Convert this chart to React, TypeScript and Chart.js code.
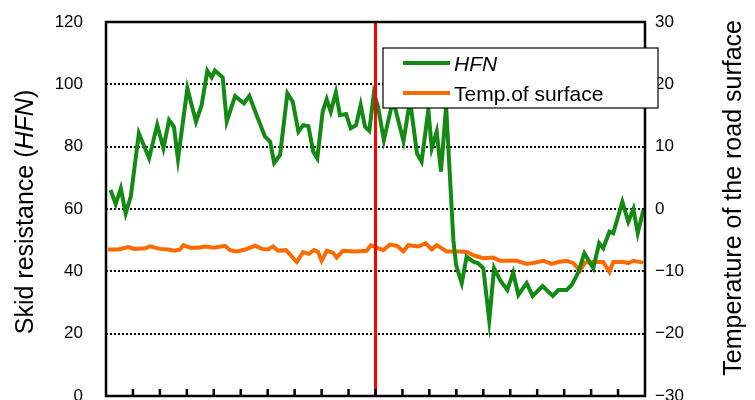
import React, { useEffect, useRef } from "react";
import { Chart, registerables } from "chart.js";

Chart.register(...registerables);

// Distance along the section (x-axis units, 20 intervals) and skid resistance (HFN)
const hfnDist = [
  0.17, 0.36, 0.55, 0.73, 0.92, 1.22, 1.6, 1.9, 2.13, 2.34, 2.52, 2.67, 3.02, 3.34, 3.55, 3.76, 3.92,
  4.04, 4.33, 4.48, 4.79, 5.12, 5.32, 5.59, 5.9, 6.09, 6.24, 6.46, 6.73, 6.93, 7.14, 7.32, 7.51, 7.69,
  7.84, 8.04, 8.19, 8.34, 8.53, 8.68, 8.91, 9.08, 9.28, 9.45, 9.61, 9.77, 9.94, 10.09, 10.31, 10.65,
  11.04, 11.28, 11.54, 11.71, 11.96, 12.09, 12.27, 12.43, 12.62, 12.89, 12.99, 13.2, 13.38, 13.63,
  13.81, 14.0, 14.22, 14.4, 14.62, 14.89, 15.11, 15.3, 15.61, 15.83, 16.2, 16.58, 16.78, 17.09, 17.28,
  17.52, 17.75, 18.08, 18.3, 18.45, 18.68, 18.82, 19.16, 19.38, 19.57, 19.73, 19.94,
];
const hfnValues = [
  66.1, 61.6, 66.6, 58.6, 64, 84.3, 76.3, 87, 79.5, 88.5, 86.4, 76, 98.7, 88, 93.4, 104.3, 102.2,
  104.4, 102.2, 88, 96.2, 93.9, 96.3, 90.1, 83.2, 81.6, 74.8, 77.3, 97.1, 94.4, 84.8, 86.9, 86.6, 78.4,
  76.3, 91.2, 95.2, 91.2, 97.4, 90.1, 90.5, 85.9, 86.9, 93.4, 86.4, 85.1, 97.1, 93, 82.1, 95,
  81.8, 95, 77.8, 75.2, 91.8, 79.5, 84.8, 72, 93, 50, 42, 36.2, 44.7, 43.1,
  42.6, 41, 24.2, 41, 37.2, 34, 39.6, 32.4, 36.2, 32.1, 35.3, 32.1, 34, 34, 35.6,
  39.6, 45.8, 41, 49, 47.4, 52.7, 52.2, 62.3, 55.9, 60, 52.2, 59.7,
];

// Distance and road surface temperature (°C)
const tempDist = [
  0.07, 0.45, 0.83, 1.04, 1.45, 1.63, 2.0, 2.3, 2.56, 2.75, 2.87, 3.12, 3.41, 3.71, 4.01, 4.42, 4.6,
  4.85, 5.16, 5.53, 5.79, 6.01, 6.2, 6.38, 6.68, 7.08, 7.31, 7.53, 7.72, 7.87, 8.0, 8.2, 8.42, 8.56,
  8.79, 9.24, 9.67, 9.83, 9.98, 10.29, 10.54, 10.8, 11.03, 11.22, 11.59, 11.87, 12.09, 12.27, 12.64,
  13.14, 13.38, 13.69, 14.0, 14.37, 14.62, 15.24, 15.61, 15.92, 16.23, 16.54, 16.78, 17.09, 17.34,
  17.59, 17.77, 18.11, 18.45, 18.68, 18.82, 19.19, 19.38, 19.57, 19.94,
];
const tempValues = [
  -6.5, -6.5, -6.1, -6.4, -6.3, -6.0, -6.4, -6.5, -6.7, -6.5, -5.8, -6.2, -6.2, -6.0, -6.2, -5.9, -6.6,
  -6.8, -6.5, -5.9, -6.4, -6.5, -6.0, -6.7, -6.6, -8.5, -6.9, -7.2, -6.6, -6.9, -8.3, -6.7, -7.0, -7.8,
  -6.7, -6.8, -6.7, -5.8, -6.1, -6.6, -5.7, -5.9, -6.8, -5.8, -6.0, -5.5, -6.5, -5.8, -6.8,
  -6.8, -6.9, -7.5, -7.9, -7.8, -8.3, -8.3, -8.8, -8.6, -8.3, -8.8, -8.5, -8.3, -8.7,
  -9.9, -8.6, -8.5, -8.5, -10.1, -8.5, -8.5, -8.7, -8.3, -8.6,
];

const xMin = 0;
const xMax = 20;
const markerPosition = 10;
const leftAxis = { min: 0, max: 120, step: 20 };
const rightAxis = { min: -30, max: 30, step: 10 };

const leftTitleParts = [
  { text: "Skid resistance (", italic: false },
  { text: "HFN", italic: true },
  { text: ")", italic: false },
];
const rightTitle = "Temperature of the road surface";
const legendItems = [
  { text: "HFN", italic: true, color: "#138a13" },
  { text: "Temp.of surface", italic: false, color: "#ff6a00" },
];

const FONT = "'Liberation Sans', Arial, sans-serif";

const decorPlugin = {
  id: "decor",
  beforeDatasetsDraw(chart: any) {
    const { ctx, chartArea } = chart;
    const y = chart.scales.y;
    ctx.save();
    ctx.strokeStyle = "#000";
    ctx.lineWidth = 2;
    ctx.setLineDash([2, 2]);
    y.ticks.forEach((t: any) => {
      if (t.value <= leftAxis.min || t.value >= leftAxis.max) return;
      const py = Math.round(y.getPixelForValue(t.value));
      ctx.beginPath();
      ctx.moveTo(chartArea.left, py);
      ctx.lineTo(chartArea.right, py);
      ctx.stroke();
    });
    ctx.restore();
  },
  afterDatasetsDraw(chart: any) {
    const { ctx, chartArea } = chart;
    const x = chart.scales.x;
    ctx.save();
    // red marker line
    const mx = x.getPixelForValue(markerPosition);
    ctx.strokeStyle = "#ff0000";
    ctx.lineWidth = 3;
    ctx.beginPath();
    ctx.moveTo(mx, chartArea.top);
    ctx.lineTo(mx, chartArea.bottom);
    ctx.stroke();

    // frame
    ctx.strokeStyle = "#000";
    ctx.lineWidth = 2.5;
    ctx.strokeRect(chartArea.left, chartArea.top, chartArea.right - chartArea.left, chartArea.bottom - chartArea.top);

    // inner x tick marks
    ctx.lineWidth = 2.5;
    for (let v = xMin + 1; v < xMax; v++) {
      const px = x.getPixelForValue(v);
      ctx.beginPath();
      ctx.moveTo(px, chartArea.bottom);
      ctx.lineTo(px, chartArea.bottom - 7);
      ctx.stroke();
    }

    // legend box
    const lx = 383, ly = 48, lw = 275, lh = 60;
    ctx.fillStyle = "#fff";
    ctx.fillRect(lx, ly, lw, lh);
    ctx.strokeStyle = "#000";
    ctx.lineWidth = 1.2;
    ctx.strokeRect(lx, ly, lw, lh);
    legendItems.forEach((it, i) => {
      const cy = ly + 15 + i * 30;
      ctx.strokeStyle = it.color;
      ctx.lineWidth = 4;
      ctx.beginPath();
      ctx.moveTo(lx + 20, cy);
      ctx.lineTo(lx + 67, cy);
      ctx.stroke();
      ctx.fillStyle = "#000";
      ctx.font = `${it.italic ? "italic " : ""}21px ${FONT}`;
      ctx.textBaseline = "middle";
      ctx.textAlign = "left";
      ctx.fillText(it.text, lx + 71, cy + 2);
    });

    // left title (rotated)
    ctx.fillStyle = "#000";
    ctx.textBaseline = "alphabetic";
    ctx.textAlign = "left";
    let total = 0;
    const widths = leftTitleParts.map((p) => {
      ctx.font = `${p.italic ? "italic " : ""}25px ${FONT}`;
      const w = ctx.measureText(p.text).width;
      total += w;
      return w;
    });
    ctx.save();
    ctx.translate(33, 212);
    ctx.rotate(-Math.PI / 2);
    let cx = -total / 2;
    leftTitleParts.forEach((p, i) => {
      ctx.font = `${p.italic ? "italic " : ""}25px ${FONT}`;
      ctx.fillText(p.text, cx, 0);
      cx += widths[i];
    });
    ctx.restore();

    // right title (rotated)
    ctx.save();
    ctx.translate(741, 20);
    ctx.rotate(-Math.PI / 2);
    ctx.font = `25px ${FONT}`;
    ctx.textAlign = "right";
    ctx.fillText(rightTitle, 0, 0);
    ctx.restore();

    ctx.restore();
  },
};

export default function App() {
  const ref = useRef<HTMLCanvasElement | null>(null);

  useEffect(() => {
    if (!ref.current) return;
    const chart = new Chart(ref.current, {
      type: "line",
      data: {
        datasets: [
          {
            label: "HFN",
            data: hfnDist.map((d, i) => ({ x: d, y: hfnValues[i] })),
            yAxisID: "y",
            borderColor: "#138a13",
            borderWidth: 4,
            pointRadius: 0,
            tension: 0,
            borderJoinStyle: "miter",
          },
          {
            label: "Temp.of surface",
            data: tempDist.map((d, i) => ({ x: d, y: tempValues[i] })),
            yAxisID: "y2",
            borderColor: "#ff6a00",
            borderWidth: 4,
            pointRadius: 0,
            tension: 0,
          },
        ],
      },
      options: {
        animation: false,
        responsive: false,
        maintainAspectRatio: false,
        layout: { padding: { top: 22, bottom: 0, left: 0, right: 0 } },
        plugins: { legend: { display: false }, tooltip: { enabled: false } },
        scales: {
          x: {
            type: "linear",
            min: xMin,
            max: xMax,
            grid: { display: false, drawTicks: false },
            border: { display: false },
            ticks: { display: false },
            afterFit: (s: any) => {
              s.height = 4;
              s.paddingLeft = 0;
              s.paddingRight = 0;
            },
          },
          y: {
            position: "left",
            min: leftAxis.min,
            max: leftAxis.max,
            grid: { display: false, drawTicks: false },
            border: { display: false },
            ticks: {
              stepSize: leftAxis.step,
              padding: 23,
              color: "#000",
              font: { family: FONT, size: 17 },
            },
            afterFit: (s: any) => {
              s.width = 106;
              s.paddingTop = 0;
              s.paddingBottom = 0;
            },
          },
          y2: {
            position: "right",
            min: rightAxis.min,
            max: rightAxis.max,
            grid: { display: false, drawTicks: false },
            border: { display: false },
            ticks: {
              stepSize: rightAxis.step,
              padding: 10,
              color: "#000",
              font: { family: FONT, size: 17 },
              callback: (v: any) => (v < 0 ? "\u2212" + Math.abs(v) : String(v)),
            },
            afterFit: (s: any) => {
              s.width = 110;
              s.paddingTop = 0;
              s.paddingBottom = 0;
            },
          },
        },
      },
      plugins: [decorPlugin],
    } as any);
    return () => chart.destroy();
  }, []);

  return (
    <div style={{ position: "fixed", left: 0, top: 0, width: 755, height: 400, background: "#fff" }}>
      <canvas ref={ref} width={755} height={400} style={{ display: "block" }} />
    </div>
  );
}
